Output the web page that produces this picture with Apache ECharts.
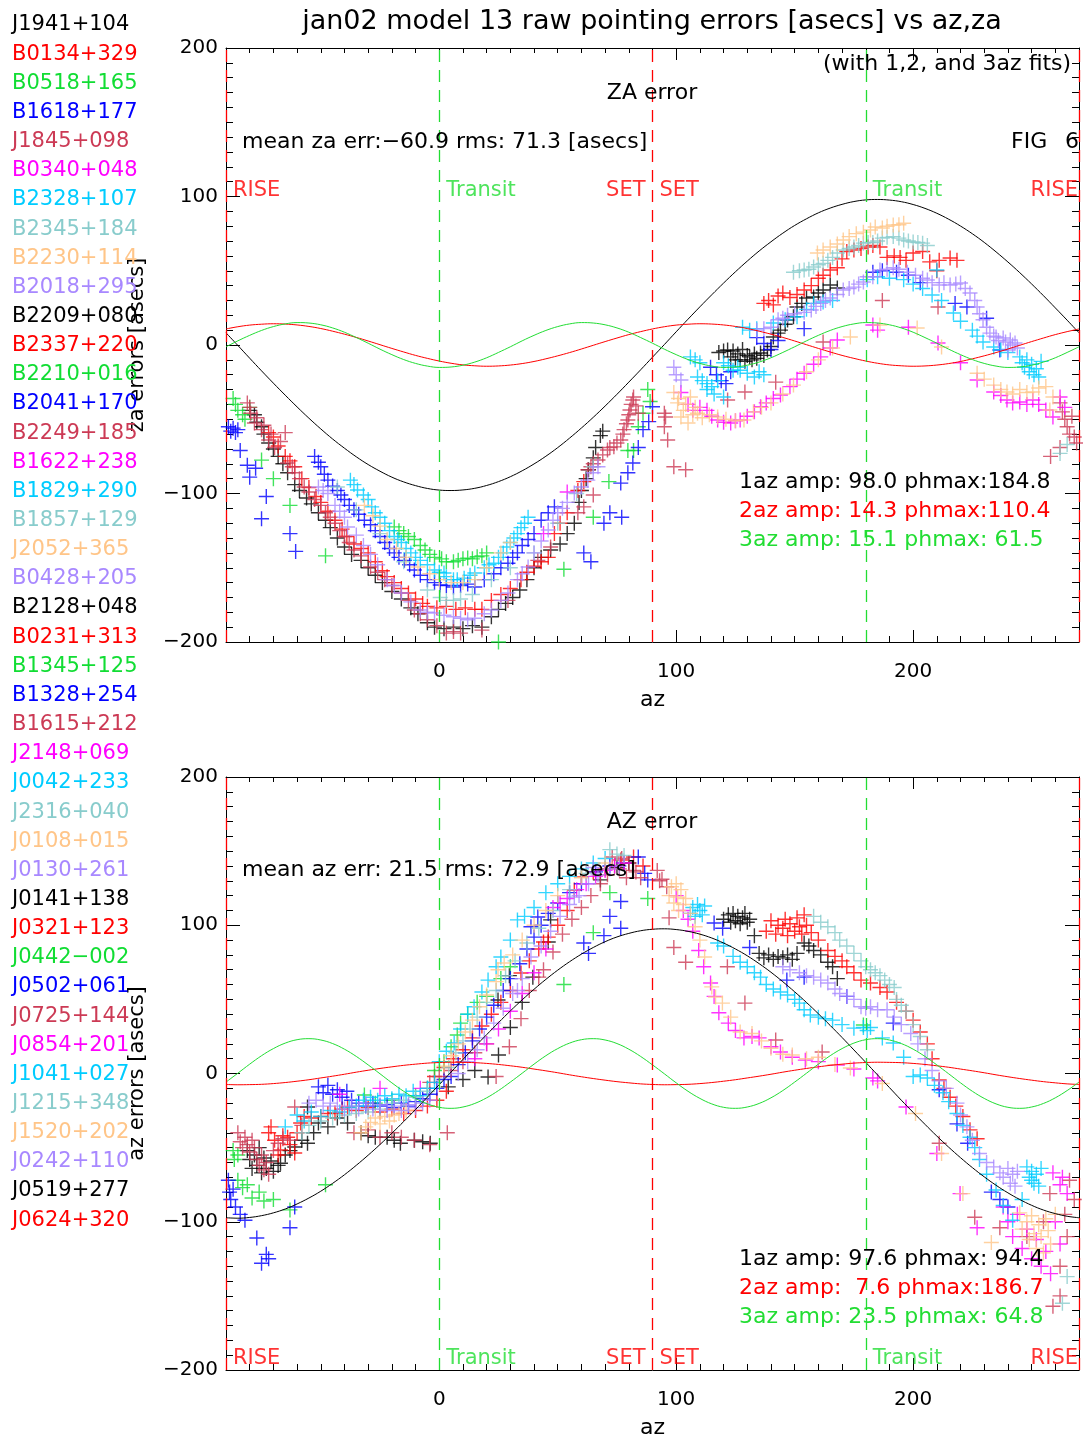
<!DOCTYPE html>
<html><head><meta charset="utf-8">
<script src="https://cdn.jsdelivr.net/npm/echarts@6/dist/echarts.min.js"></script>
<style>html,body{margin:0;padding:0;background:#fff}#c{width:1083px;height:1440px}</style>
</head><body><div id="c"></div><script>
// ---------------- data ----------------
const sources = ['J1941+104','B0134+329','B0518+165','B1618+177','J1845+098','B0340+048','B2328+107','B2345+184','B2230+114','B2018+295','B2209+080','B2337+220','B2210+016','B2041+170','B2249+185','B1622+238','B1829+290','B1857+129','J2052+365','B0428+205','B2128+048','B0231+313','B1345+125','B1328+254','B1615+212','J2148+069','J0042+233','J2316+040','J0108+015','J0130+261','J0141+138','J0321+123','J0442\u2212002','J0502+061','J0725+144','J0854+201','J1041+027','J1215+348','J1520+202','J0242+110','J0519+277','J0624+320'];
const palette = ['#000000','#ff0000','#11dd33','#0000ff','#cc3a55','#ff00ff','#00ccff','#88cccc','#ffc588','#a888ff'];
const xTickValues = [0, 100, 200];
const yTickValues = [-200, -100, 0, 100, 200];
const eventX = [-90, 0, 90, 90, 180, 270];
const eventText = ['RISE', 'Transit', 'SET', 'SET', 'Transit', 'RISE'];
const eventSide = ['right', 'right', 'left', 'right', 'right', 'left'];
const fitZaParams = [[98.0, 184.8], [14.3, 110.4], [15.1, 61.5]];
const fitAzParams = [[97.6, 94.4], [7.6, 186.7], [23.5, 64.8]];
const statsZa = 'mean za err:\u221260.9 rms: 71.3 [asecs]';
const statsAz = 'mean az err: 21.5 rms: 72.9 [asecs]';

// fit curves read at every 5 deg of az
const curveX = [-90,-85,-80,-75,-70,-65,-60,-55,-50,-45,-40,-35,-30,-25,-20,-15,-10,-5,0,5,10,15,20,25,30,35,40,45,50,55,60,65,70,75,80,85,90,95,100,105,110,115,120,125,130,135,140,145,150,155,160,165,170,175,180,185,190,195,200,205,210,215,220,225,230,235,240,245,250,255,260,265,270];
const zaFit1 = [8.2,-0.3,-8.9,-17.4,-25.7,-33.8,-41.7,-49.3,-56.5,-63.3,-69.5,-75.3,-80.5,-85.0,-89.0,-92.2,-94.7,-96.6,-97.7,-98.0,-97.6,-96.5,-94.6,-92.0,-88.7,-84.7,-80.1,-74.9,-69.1,-62.7,-55.9,-48.7,-41.1,-33.2,-25.0,-16.7,-8.2,0.3,8.9,17.4,25.7,33.8,41.7,49.3,56.5,63.3,69.5,75.3,80.5,85.0,89.0,92.2,94.7,96.6,97.7,98.0,97.6,96.5,94.6,92.0,88.7,84.7,80.1,74.9,69.1,62.7,55.9,48.7,41.1,33.2,25.0,16.7,8.2];
const zaFit2 = [10.8,12.3,13.4,14.0,14.3,14.1,13.5,12.5,11.1,9.3,7.3,5.1,2.7,0.2,-2.3,-4.7,-7.0,-9.0,-10.8,-12.3,-13.4,-14.0,-14.3,-14.1,-13.5,-12.5,-11.1,-9.3,-7.3,-5.1,-2.7,-0.2,2.3,4.7,7.0,9.0,10.8,12.3,13.4,14.0,14.3,14.1,13.5,12.5,11.1,9.3,7.3,5.1,2.7,0.2,-2.3,-4.7,-7.0,-9.0,-10.8,-12.3,-13.4,-14.0,-14.3,-14.1,-13.5,-12.5,-11.1,-9.3,-7.3,-5.1,-2.7,-0.2,2.3,4.7,7.0,9.0,10.8];
const zaFit3 = [-1.2,2.8,6.5,9.8,12.4,14.2,15.1,14.8,13.6,11.5,8.6,5.0,1.2,-2.8,-6.5,-9.8,-12.4,-14.2,-15.1,-14.8,-13.6,-11.5,-8.6,-5.0,-1.2,2.8,6.5,9.8,12.4,14.2,15.1,14.8,13.6,11.5,8.6,5.0,1.2,-2.8,-6.5,-9.8,-12.4,-14.2,-15.1,-14.8,-13.6,-11.5,-8.6,-5.0,-1.2,2.8,6.5,9.8,12.4,14.2,15.1,14.8,13.6,11.5,8.6,5.0,1.2,-2.8,-6.5,-9.8,-12.4,-14.2,-15.1,-14.8,-13.6,-11.5,-8.6,-5.0,-1.2];
const azFit1 = [-97.3,-97.6,-97.1,-95.9,-94.0,-91.4,-88.0,-84.0,-79.4,-74.1,-68.3,-61.9,-55.1,-47.9,-40.3,-32.4,-24.3,-15.9,-7.5,1.0,9.5,18.0,26.2,34.3,42.2,49.7,56.8,63.5,69.7,75.4,80.5,85.0,88.9,92.1,94.5,96.3,97.3,97.6,97.1,95.9,94.0,91.4,88.0,84.0,79.4,74.1,68.3,61.9,55.1,47.9,40.3,32.4,24.3,15.9,7.5,-1.0,-9.5,-18.0,-26.2,-34.3,-42.2,-49.7,-56.8,-63.5,-69.7,-75.4,-80.5,-85.0,-88.9,-92.1,-94.5,-96.3,-97.3];
const azFit2 = [-7.4,-7.6,-7.5,-7.3,-6.8,-6.1,-5.2,-4.2,-3.0,-1.8,-0.5,0.9,2.2,3.4,4.5,5.5,6.3,7.0,7.4,7.6,7.5,7.3,6.8,6.1,5.2,4.2,3.0,1.8,0.5,-0.9,-2.2,-3.4,-4.5,-5.5,-6.3,-7.0,-7.4,-7.6,-7.5,-7.3,-6.8,-6.1,-5.2,-4.2,-3.0,-1.8,-0.5,0.9,2.2,3.4,4.5,5.5,6.3,7.0,7.4,7.6,7.5,7.3,6.8,6.1,5.2,4.2,3.0,1.8,0.5,-0.9,-2.2,-3.4,-4.5,-5.5,-6.3,-7.0,-7.4];
const azFit3 = [-5.8,0.2,6.3,12.0,16.8,20.5,22.8,23.5,22.6,20.2,16.4,11.5,5.8,-0.2,-6.3,-12.0,-16.8,-20.5,-22.8,-23.5,-22.6,-20.2,-16.4,-11.5,-5.8,0.2,6.3,12.0,16.8,20.5,22.8,23.5,22.6,20.2,16.4,11.5,5.8,-0.2,-6.3,-12.0,-16.8,-20.5,-22.8,-23.5,-22.6,-20.2,-16.4,-11.5,-5.8,0.2,6.3,12.0,16.8,20.5,22.8,23.5,22.6,20.2,16.4,11.5,5.8,-0.2,-6.3,-12.0,-16.8,-20.5,-22.8,-23.5,-22.6,-20.2,-16.4,-11.5,-5.8];

// ---- ZA errors (top panel), [az, err] ----
const zaBlack = [[-80,-44],[-78,-47],[-77,-52],[-75,-55],[-74,-60],[-72,-66],[-70,-70],[-68,-75],[-66,-80],[-64,-86],[-61,-94],[-59,-98],[-56,-103],[-54,-107],[-51,-113],[-48,-118],[-46,-123],[-43,-130],[-40,-136],[-37,-141],[-33,-145],[-30,-150],[-27,-155],[-24,-160],[-20,-166],[-16,-171],[-12,-177],[-9,-181],[-5,-187],[-2,-190],[2,-191],[6,-190],[10,-191],[14,-189],[18,-190],[22,-183],[25,-178],[28,-174],[31,-170],[34,-165],[37,-158],[40,-150],[43,-143],[47,-138],[51,-134],[54,-127],[57,-120],[59,-106],[60,-98],[62,-90],[63,-84],[65,-76],[66,-69],[68,-61],[69,-58],
[118,-5],[120,-4],[121.7,-3.4],[123,-8],[124,-4],[125,-10],[126,-6],[127,-10],[128,-3],[129,-11],[130,-7],[131,-8],[132,-10],[133,-6],[134,-9],[135.6,-5.4],[137,-7],[138.5,-3.4],[140,-1],[141,5.4],[143,8],[144,10],[146,14],[147,16.8],[149.5,19],[151,25.6],[153,28],[155,31.6],[158,32.3],[160,35],[162,37],[165,40.4],[168,38.4]];
const zaRed = [[-72,-59],[-70,-62],[-68,-68],[-65,-75],[-63,-78],[-61,-82],[-58,-90],[-55,-96],[-52,-102],[-50,-106],[-47,-112],[-44,-118],[-41,-124],[-39,-129],[-36,-134],[-33,-137],[-30,-140],[-27,-146],[-24,-152],[-22,-156],[-19,-160],[-16,-164],[-13,-167],[-10,-171],[-7,-174],[-5,-176],[-1,-177],[3,-176],[7,-178],[11,-177],[15,-178],[18,-178],[22,-172],[26,-168],[30,-164],[34.5,-158],[37,-153],[40,-149],[43,-146],[46,-143],[48.6,-127],[51,-120],[54,-113],[58.5,-98],[61,-92],
[137,28],[139,30],[141,27],[143,33],[145,35],[148,32],[151,34],[154,37],[157,40],[160,45],[162,47],[165,50.5],[168,52],[170,58],[172,63],[175,64],[178,65],[181,66],[183,67],[186,66],[189,59],[192,60],[194.5,59],[197,57],[200,62],[204,63],[207,56],[210,50],[211,57],[215.6,58.6],[218.5,57]];
const zaGreen = [[-87,-36],[-86,-40],[-85,-44],[-83,-47],[-82,-50],[-80,-42],[-75,-77.5],[-70,-90],[-63,-108],[-48,-142],
[-19,-122.5],[-17,-125],[-15,-127],[-13,-129],[-10.5,-131],[-8,-135],[-6,-138],[-4,-141],[-2,-143],[1,-144],[3,-146],[6,-146],[8,-145],[10,-144],[12,-143.5],[14,-144],[16,-142.6],[18,-142],[20,-140],
[52.6,-151],[25,-200],[65,-116],[71.6,-92],[79.6,-71],[82,-71],[84,-55],[86,-46],[88,-30],[89,-38]];
const zaBlue = [[-89,-55],[-88,-58],[-87,-56],[-86,-59],[-85,-57],[-84,-71],[-81,-81],[-80,-89],[-77.5,-83],[-75,-117],[-73,-102],[-63,-127],[-60.6,-139],
[-52.6,-75],[-51,-79],[-50,-82],[-48.5,-87],[-47,-91],[-45,-95],[-43,-98],[-41.5,-101],[-40,-104],[-38,-108],[-36,-111],[-34,-114],[-31.6,-118],[-29,-121],[-27,-125],[-25,-129],[-23,-133],[-21,-137],[-19,-140],[-17,-143],[-14.7,-145],[-12.5,-148],[-10.5,-151.5],[-8,-155],[-5,-158],[-2,-160],[0.4,-161.6],[3,-162],[6,-163],[9,-162],[12,-161],[15,-163],[19,-158],[23,-154],[26,-150],[29,-147],[31,-143],[33,-140],[35,-135],[37.5,-131],[40,-127],[43,-118],[46,-113],[48.6,-109],
[61,-140],[64,-146],[69.5,-120],[72,-113],[77,-116],[76.6,-93],[79.6,-86],[81.7,-79.5],[84,-69],[86,-57],[88.4,-51.6],[90,-41.6],
[114.5,-15],[117,-20],[119,-24],[121,-26],[123,-18],[134,5],[137,1],[140,-3],[143,3],[154,11],[183,49],[187,50],[193,49],[198,47],[203,42],[217.7,28],[222.7,25.6],[231,18],[236.6,-3.4]];
const zaCrimson = [[-81,-39],[-80,-42],[-79.6,-46],[-78,-52.5],[-77,-49],[-75,-57],[-74,-54],[-72,-64],[-71,-60],[-69.5,-69],[-67,-65],[-65,-59],[-64,-79.5],[-62,-82],[-61,-86],[-59,-90],[-57,-95.6],[-55,-99],[-52.6,-104],[-50,-108],[-48,-113],[-46,-116],[-44,-120],[-42,-125],[-40,-129],[-38,-133],[-36,-138],[-33,-142],[-29,-149.5],[-26,-153],[-23,-158],[-20,-162],[-16,-167],[-13,-172],[-10.5,-178.5],[-8,-181],[-5,-185],[-1,-189],[3,-194],[6,-193],[9,-194],[18,-192],[29,-172],[41.6,-145],[47,-136],[58.5,-113],[61,-109],[65,-101],
[62.7,-84],[64,-82],[65,-80],[67,-77.4],[69,-74],[71,-70.7],[72,-69],[73.7,-68.6],[75,-66],[76.6,-64],[77.5,-60],[78,-57],[79,-53],[79.6,-50.5],[80,-47],[80.5,-43.8],[81,-40],[81.7,-37],[82,-35],[83,-41],[84,-46],
[95,-46],[95.5,-48.5],[95,-55],[96.4,-64],[99,-82],[104,-84],[121.7,-37],[129,-31.6],[142,-25],[162,2],[187,30],[210.5,25.6],
[258,-75],[262,-69],[262,-39],[263,-45],[264,-50],[265,-55],[266,-60],[267,-48],[268,-62],[269,-66]];
const zaMagenta = [[44,-127],[54,-99],[102,-32],[105,-40],[107,-44],[110,-42],[113,-44],[115,-48],[117.5,-50.5],[120,-52],[123,-52.5],[125,-51],[127,-50.5],[130,-48],[133,-45],[135.6,-41.6],[138,-39],[141,-36],[144,-33.7],[148,-28],[151,-23],[154,-19],[158,-13],[161,-8],[165,-2],[168,3.4],[183,13.5],[185,10],[198,12],[210.5,1.3],[220,-12],[227,-23.6],[234,-31.6],[237,-34],[239.6,-37],[242,-39],[245,-38.4],[248,-40],[250.5,-37],[253,-40],[256,-43.8],[259,-48.5],[262,-35],[264,-42]];
const zaCyan = [[-37.5,-91],[-36,-94],[-34.5,-97.6],[-32,-101],[-30,-104],[-28.5,-109],[-27,-113],[-25,-116],[-23,-120],[-21,-125],[-19,-129],[-17.5,-131],[-16,-133],[-14,-137],[-12,-140],[-10,-143],[-8,-145],[-5,-148],[-2,-151.5],[0,-153],[2,-153.5],[3,-156],[6,-158],[7.6,-158],[10.5,-157],[13,-155],[15,-153.5],[19,-150],[21,-148],[23,-147],[25,-143],[27,-140],[28.5,-136],[30,-133],[31.5,-130],[33,-127],[34.5,-123],[36,-120],[37.5,-116],
[106,-8],[108,-10],[110,-12],[109,-21.5],[111,-24],[113,-26],[115,-28],[117.5,-24],[113,-30],[116,-33],[120,-35],[120,-12],[122,-14],[124,-17],[126,-15],[127,-17],[130,-19],[133,-21.5],[135,-18],[137,-20],[128,12],[131,10],[134,11],[141,14.8],[146,17],[151,19],[155,24],[158,28],[162,29],[166,30],[180.6,44],[185,46],[190,45],[196,44],[200,41],[204,38],[208,33.7],[210,50.5],[212,30],[217,21.5],[220,16],[225,10],[227,6],[229.5,2],[234,-1.3],[237,-3],[240,-5],[245,-8],[246,-12],[247,-15],[248,-10],[249,-18],[250,-13],[251,-20],[252,-16],[253,-21.5],[254,-11]];
const zaTeal = [[-43,-95.6],[-35,-111],[-25,-127],[-15,-146],[-5,-165],[0.4,-170],[3,-172],[6,-172],[9,-171],[14,-168],[22,-158],[30,-150],[40,-140],[50,-120],[58,-100],[65,-82],
[149.5,49],[152,50],[154,50.5],[156,51],[158,52.5],[160,54],[162,55],[164,57],[166,59],[168,62],[170.5,64],[173,65],[175,66],[177,67],[179,68.6],[181,69],[183,69],[185,70],[187,72],[189,72.5],[191.6,73],[194,72],[196,70.7],[198,70],[200,69.4],[202,69],[204,68.6],[206,67],[262,-73],[265,-67]];
const zaPeach = [[-31.6,-108],[-28,-115],[-25,-122],[-22,-131],[-18,-137],[-14,-143],[-9,-149.5],[-4,-154],[0,-158],[5,-160],[10,-160],[15,-158],[20,-150],[26,-140],[30,-133],
[99,-32],[100.6,-39],[101,-36],[102,-48.5],[103,-44],[104,-40],[105,-52.5],[106,-35],[107,-47],[108,-42],[109,-46],[111,-49],[114,-47],[117.5,-48.5],[121,-50],[125,-51],[128.6,-50.5],[132.6,-45],[136,-42],[140,-39],[145,-33],[149.5,-27],[155,-18],[160,-10],[166,-2],[173.5,5.4],
[159.6,62],[162,64],[165,66],[168,68],[170.5,70.7],[173,73],[176,75],[179,76],[182,77.4],[184,79.5],[187,78.8],[189,80],[191.6,80.8],[194,81],[196,82],
[186,13.5],[201.7,11.4],[212,-1.3],[227,-19],[230,-23],[234,-27],[237,-30],[239.6,-31.6],[242,-33],[245,-30],[248,-32],[250.5,-31.6],[253,-29],[256,-28],[259,-35],[257.7,-43.8]];
const zaLavender = [[-51,-95.6],[-49,-98],[-47,-100],[-44,-108],[-42,-112],[-40,-116],[-38.7,-122.6],[-35,-128],[-32,-135],[-29,-141],[-26,-148],[-22,-158],[-19,-162],[-16,-167],[-12,-173],[-8,-178.5],[-5,-180],[-2,-180.5],[2,-182],[6,-183],[9,-184],[12,-185],[15,-184],[19,-181],[22,-178.5],[26,-172],[29,-167],[33,-158],[35,-154],[37.5,-149.5],[40,-140],[43,-132],[46,-124.6],[48,-118],[50,-113],[52,-110],[54,-106],[57,-99.6],[60,-95.6],[62.7,-91],[65,-86],[67,-82],
[99,-15],[100,-20],[102,-23.6],[134,10],[137,11],[140,12],[143,17],[145,18],[147,20],[150,21],[154,22],[157,23.6],[159,26],[161,28],[163,30],[165,31.6],[168,34],[170.5,37],[173,38],[175,39],[177,41],[179,42.4],[180.6,46],[183,46],[186,50.5],[189,51],[191.6,52],[194,51],[197.5,49],[201,47],[204,45],[206,43.8],[208,42],[211,40.4],[213,42],[215.6,40.4],[218,41],[220,41.8],[222,38],[224,35],[226,30],[227,25.6],[228,21],[229.5,17],[231,12],[232.4,8],[234,6],[235,5.4],[236,3],[238,4.7],[239,2],[240,-3.4],[241,3.4],[242,0],[243,1.3],[244,-2]];

// ---- AZ errors (bottom panel), [az, err] ----
const azBlack = [[-81,-52],[-80,-58],[-79,-64],[-78,-55],[-77,-62],[-76,-50],[-75,-67],[-74,-57],[-73,-64],[-71,-59],[-70,-66],[-68,-62],[-67,-60.5],[-65,-55],[-63,-52],[-61,-49.6],[-58,-45],[-55.6,-47],[-53,-40],[-51,-33.4],[-55.6,-22.6],[-47,-36],[-43,-30],[-38.7,-33.4],[-33,-40],[-30,-42],[-27,-43],[-22,-43],[-19,-45],[-16.4,-47],[-10.5,-45],[-7,-46],[-3.8,-47],[3.8,-9],[10,-4],[15,2],[20.6,-2.4],[25,12.5],[30,31],[35,48],[39.5,65],[24.8,49.6],[29.6,66],[46,88.7],[47,103.6],[68,130.6],[75,139],[80,142],
[120,104],[122,107],[123,102],[124,108],[125,103],[126,106],[127,101],[128,105],[129,108],[130,102],[131,104],[133,93],[135,81],[137,78],[139,80],[141,77],[143,79],[145,78],[147,80],[149,77],[151,81],[154,88],[156,86],[158,83],[161,80],[164,75],[166,72],[168,64]];
const azRed = [[-72,-40],[-71,-36],[-69.5,-45],[-68,-55],[-67,-51.6],[-66,-42],[-64,-43],[-63,-48],[-61,-53.6],[-60,-40],[-58.5,-33.4],[-57,-29],[-54,-30],[-50,-29],[-47,-27],[-44,-26.6],[-41,-24],[-38.7,-22.6],[-35,-25],[-30,-23],[-25,-26],[-20,-24],[-15,-27],[-10,-25],[-5,-22],[-1,-18],
[3,-12],[-2,-2],[2,4],[6,10],[10,16],[14,24],[18,32],[22,40],[26,48],[30,56],[34.5,67.8],[38,76],[42,84],[44,88.7],[46,92],[50,100],[54,110],[57,123.8],[60,132.6],[65,136],[70,138],[76.6,144],[82,146],[86,140],
[138,96],[140,103],[142,94],[143,100],[145,98],[146,104],[147,93],[148,101],[150,96],[151,105],[152,99],[153,94],[154,107],[155,100],[157,95],[160,90],[164,83],[167,79],[170,76],[172,72],[175,68],[178,63],[182,61],[186,58],[189,55],[193,48],[197,42],[200,36],[203,28],[206,20],[208,10],[211,-4.4],[213,-10],[215.6,-16],[218,-22],[221,-29],[224,-38],[227,-44]];
const azGreen = [[-87,-52],[-86.5,-58],[-85,-55],[-85,-72],[-83,-77],[-81,-75],[-79,-84],[-76,-80],[-74,-86],[-70,-85],[-63,-92],[-48,-75],[-31.6,-14.5],[-27,-20],[-20,-18],[-10,-15],[-5,-10],[-2,2],[2,8],[5,18],[7.6,26],[9,34],[12,40],[16,48],[20,52],[26,64],[30,72],[52.6,60],[65,95],[72,122],[88,118],[179,32.7]];
const azBlue = [[-89,-72],[-88.5,-80],[-88,-85],[-87,-78],[-86,-90],[-84,-95],[-82,-99],[-77,-111],[-73,-122],[-75,-128],[-72,-125],[-63,-104],[-61,-90],
[-51,-9],[-49,-13],[-47,-8],[-45,-14],[-43,-11],[-41,-16],[-39,-12],[-37,-18],[-34,-20],[-31,-22],[-28,-20],[-25,-22],[-22,-21],[-19,-23],[-16,-20],[-13,-22],[-10,-19],[-7,-17],[-4,-14],[-1,-10],[2,-4],[5,-2],[8,6],[11,14],[14,22],[17,30],[20,38],[23,46],[27,56],[30,64],[34,74],[37,84],[38.7,99],[40,92],[41.6,105.6],[43,100],[46,108],[50,115],[55,122],[60,128],[66,136],[72,140],[78,142],[84,146],[86.7,135],[88,130.6],
[63,81],[61,88],[69.5,93],[76.6,98],[72,106],[76.6,116],
[116,101.5],[119.6,98],[131,85],[146.7,63],[154,65],[172,52],[191.6,34],[211,-11],[218.5,-34],[223,-47],[233,-80],[236.6,-85],[240,-90]];
const azCrimson = [[-85,-40],[-84,-46],[-83,-50],[-82,-43],[-81,-48],[-80,-53],[-79,-45],[-78,-50],[-77,-58],[-76,-62],[-75,-55],[-74,-65],[-73,-60],[-72,-68],[-70,-52],[-68,-47],[-66,-44],[-63,-45],[-61,-22.6],[-58,-35],
[-36,-40],[-30,-38],[-25,-43],[-20,-40],[-16,-43],[-10.5,-45],[-4,-48],[3.4,-40],
[-4,-6],[0,-2],[5,2],[10,8],[15,14],[20,20],[24,-2],[29.6,18],[34.5,37],[38,56],[42,65],[44,70],[48,82],[52,94],[56,104],[60,112],[64,120],[68,128],[71,134],[73,146],[74,140],[76,138],[77,145],[79,132],[80,142],[82,137],[83,136],[85,132],[92,137],[93,130],[94,131],[96,126],[97,105],[99,85],[104,75],[121.6,72],[129,47.5],[142,22.6],[161.6,14.5],
[211,-47],[226,-97],[236.6,-104],[248,-110],[257.7,-81],[266,-72],[265,-110],[262,-130],[259,-157],[262,-150],[268,-85],[264,-95],[255,-100]];
const azMagenta = [[-42,-14],[-25,-10],[-8,-10],[15,10],[20,20],[25,30],[30,42],[35,54],[40,68],[45,84],[48,112],[51,115],[54,118],[58,124],[62,128],[66,133],[70,137],[74,140],[78,142],
[100,120],[103,110],[105,104],[107,96],[109.5,83],[111.6,72],[114.5,61],[116,52],[118,41],[122,34],[125,29],[128.6,24],[132,25],[135,24],[140,18],[144,14.5],[149,11],[154.5,9],[160,8],[168,5.7],[175,3],[183,-3],[185,-5],[197,-22.6],[210,-54],[219.8,-81],[227,-104],
[238,-90],[240,-100],[242,-110],[244,-95],[246,-118],[248,-105],[250,-125],[252,-112],[254,-130],[256,-120],[258,-135],[260,-100],[262,-115],[259,-67],[262,-75],[265,-81],[263,-70]];
const azCyan = [[-65,-36],[-60,-28],[-57,-32],[-54,-26],[-50,-29],[-46,-25],[-42,-26],[-38,-23],[-35,-22],[-32,-18],[-29,-16],[-26,-18],[-23,-15],[-20,-17],[-17,-14],[-14,-15],[-11,-12],[-8,-15],[-5,-10],[-2,-6],
[0,8],[3,15],[6.3,20.6],[9,30],[12,40],[14.7,45],[18,55],[20.6,63],[24,72],[26,78.6],[30,90],[33,103.6],[36,106],[40,112],[45,122],[50,128],[55,133],[60,138],[65,142],[70,145],
[106,108],[107,112],[108,106],[109,114],[110,110],[111,107],[112,113],[117.5,88],[120,86],[124,79],[127,75],[130,72],[133,68],[135.6,65],[138,60],[141,57],[144,55],[147,53],[150,50],[152,47.5],[154,43],[156.6,39.5],[160,38],[163,37],[166,36],[170,33],[175,30.6],[179,31],[182,31],[180.6,29],[187,24],[191.6,20.6],[196,11],[200,-2],[203,-1],[206,-3],[209,-8],[212.6,-13],[215,-19],[218.5,-27],[221,-35],[224,-43],[226,-50],[228,-58],[231,-68],[235,-78.6],[238,-89],[242,-99],[246,-85],[248,-63],[249,-70],[250,-66],[251,-74],[252,-68],[253,-76],[250,-72],[254,-64]];
const azTeal = [[-58,-40],[-55,-35],[-50,-32],[-45,-30],[-40,-28],[-35,-27],[-30,-26],[-25,-24],[-20,-20],[-15,-18],[-10,-16],[-5,-12],
[4,4],[7,14],[10,22],[13,30],[16,38],[20,48],[24,56],[28,66],[32,76],[37,88],[42,98],[48,110],[55,124],[62,135],[72,151],[75,148],[78,147],
[158,106],[161,102],[164,99],[167,95],[169,90],[172,86],[175,81],[178,76],[180,72],[182,70],[184,68],[186,66],[188,63],[190,60],[192,58],[193,50],[195,46],[197,42],[200,33],[203,25],[206,16],[265,-137],[263,-155]];
const azPeach = [[-33,-40],[-31,-36],[-29,-33],[-27,-30],[-25,-34],[-23,-29],[-21,-32],[-19,-28],[-17,-27],[-14,-25],
[2,5],[5,12],[8,20],[11,28],[14,36],[17,45],[20,53],[24,62],[24.8,70],[27.4,74.5],[31,80],[35,90],[40,100],[45,110],[50,120],[60,132],[70,142],
[97,120],[98,126],[99,115],[100,128],[100.6,119],[101,110],[102,124],[103,114],[104,118],[106,108],[108,99],[110,90],[112,78.6],[115,58.4],[116.6,51.6],[119.5,47.5],[123,38],[127,28],[132,27],[136,22],[140,17],[145,13],[149,12.5],[155,10],[160,11],[167,6],[173.5,3.7],[187,-6.7],[201,-27],[212,-54],[221,-81],[233,-114],
[245,-94],[246,-105],[248,-100],[249,-112],[250,-96],[251,-108],[252,-118],[253,-102],[254,-110],[255,-121],[256,-98],[257,-106],[258,-115],[260,-95]];
const azLavender = [[-55,-20],[-52,-18],[-49,-22],[-46,-20],[-43,-22],[-40,-24],[-37,-22],[-34,-24],[-31,-20],[-28,-24],[-25,-21],[-22,-25],[-19,-22],[-16,-25],[-13,-21],[-10,-23],[-7,-20],[-4,-18],
[8,0],[12,8],[16,16],[19,24],[23,34],[27,44],[31,54],[33,56],[35,64],[38.7,78.6],[43,86],[47,96],[51,106],[55,114],[57,119],[59,120],[63,128],[65,139],[67,134],[72,138],[76,140],
[145,72],[148,70],[152,68],[155,66],[158,65],[161,63],[164,61],[167,57],[169,54],[172,52],[175,50],[178,45],[180,44],[182,45],[185,43],[189,43],[192,38],[195,33],[199,27],[202,20],[205,10],[208,2],[211,-5],[214,-10],[218.5,-20],[220,-28],[222.7,-36],[225,-45],[228,-54],[231,-60],[234,-63],[236.6,-67],[238,-70],[240,-64],[241,-74],[242,-68],[243,-76],[244,-66]];

const zaGroups = [zaBlack, zaRed, zaGreen, zaBlue, zaCrimson, zaMagenta, zaCyan, zaTeal, zaPeach, zaLavender];
const azGroups = [azBlack, azRed, azGreen, azBlue, azCrimson, azMagenta, azCyan, azTeal, azPeach, azLavender];

// ---------------- chart ----------------
const FONT = 'DejaVu Sans';
const RED = '#ff0000', GREEN = '#22dd33';
const plusPath = 'path://M0,7L14,7M7,0L7,14';
const chart = echarts.init(document.getElementById('c'));

function f51(v) { let s = v.toFixed(1); while (s.length < 5) s = ' ' + s; return s; }
function minusFmt(v) { return String(v).replace('-', '\u2212'); }

function makeX(gi) {
  const base = {gridIndex: gi, type: 'value', min: -90, max: 270, splitLine: {show: false}};
  return [
    Object.assign({}, base, {position: 'bottom',
      axisLine: {show: true, onZero: false, lineStyle: {color: '#000', width: 1}},
      axisTick: {show: true, inside: true, length: 12, customValues: xTickValues, lineStyle: {color: '#000'}},
      axisLabel: {show: true, customValues: xTickValues, margin: 20, color: '#000', fontSize: 20, fontFamily: FONT},
      name: 'az', nameLocation: 'middle', nameGap: 47, nameTextStyle: {color: '#000', fontSize: 22, fontFamily: FONT}}),
    Object.assign({}, base, {position: 'bottom', interval: 10,
      axisLine: {show: false, onZero: false}, axisTick: {show: true, inside: true, length: 6, lineStyle: {color: '#000'}}, axisLabel: {show: false}}),
    Object.assign({}, base, {position: 'top',
      axisLine: {show: true, onZero: false, lineStyle: {color: '#000', width: 1}},
      axisTick: {show: true, inside: true, length: 12, customValues: xTickValues, lineStyle: {color: '#000'}}, axisLabel: {show: false}}),
    Object.assign({}, base, {position: 'top', interval: 10,
      axisLine: {show: false, onZero: false}, axisTick: {show: true, inside: true, length: 5, lineStyle: {color: '#000'}}, axisLabel: {show: false}})
  ];
}
function makeY(gi, name) {
  const base = {gridIndex: gi, type: 'value', min: -200, max: 200, splitLine: {show: false}};
  return [
    Object.assign({}, base, {position: 'left', interval: 100,
      axisLine: {show: true, onZero: false, lineStyle: {color: '#000', width: 1}},
      axisTick: {show: true, inside: true, length: 14, lineStyle: {color: '#000'}},
      axisLabel: {show: true, margin: 8, color: '#000', fontSize: 20, fontFamily: FONT, formatter: minusFmt},
      name: name, nameLocation: 'middle', nameGap: 78, nameTextStyle: {color: '#000', fontSize: 21, fontFamily: FONT}}),
    Object.assign({}, base, {position: 'left', interval: 10,
      axisLine: {show: false, onZero: false}, axisTick: {show: true, inside: true, length: 7, lineStyle: {color: '#000'}}, axisLabel: {show: false}}),
    Object.assign({}, base, {position: 'right', interval: 100,
      axisLine: {show: true, onZero: false, lineStyle: {color: '#000', width: 1}},
      axisTick: {show: true, inside: true, length: 14, lineStyle: {color: '#000'}}, axisLabel: {show: false}}),
    Object.assign({}, base, {position: 'right', interval: 10,
      axisLine: {show: false, onZero: false}, axisTick: {show: true, inside: true, length: 7, lineStyle: {color: '#000'}}, axisLabel: {show: false}})
  ];
}

function panelSeries(gi, groups, fits, labelY) {
  const ax = gi * 4;
  const out = [];
  groups.forEach((data, j) => {
    out.push({type: 'scatter', name: sources.filter((_, i) => i % 10 === j).join(', '),
      xAxisIndex: ax, yAxisIndex: ax, data: data, symbol: plusPath, symbolSize: 15,
      itemStyle: {color: 'rgba(0,0,0,0)', borderColor: palette[j], borderWidth: 1.4},
      silent: true, z: 3});
  });
  const fitColors = ['#000000', RED, GREEN];
  fits.forEach((ys, k) => {
    out.push({type: 'line', xAxisIndex: ax, yAxisIndex: ax, data: curveX.map((x, i) => [x, ys[i]]),
      smooth: 0.4, showSymbol: false, silent: true, lineStyle: {color: fitColors[k], width: 1}, z: 4});
  });
  out.push({type: 'scatter', xAxisIndex: ax, yAxisIndex: ax, symbolSize: 0, silent: true, z: 5,
    data: eventX.map((x, i) => ({value: [x, labelY], label: {show: true, position: eventSide[i], distance: (i === 5 ? 1 : 7),
      formatter: eventText[i], color: eventText[i] === 'Transit' ? GREEN : RED, fontSize: 21, fontFamily: FONT}})),
    markLine: {silent: true, symbol: ['none', 'none'], label: {show: false}, animation: false,
      data: eventX.filter((x, i) => i !== 3).map(x => ({xAxis: x,
        lineStyle: {color: (x === 0 || x === 180) ? GREEN : RED, type: [12, 8], width: 1.3}}))}});
  return out;
}

const graphics = [];
sources.forEach((s, i) => {
  graphics.push({type: 'text', x: 12, y: 25 + i * 29.15, z: 100,
    style: {text: s, fill: palette[i % 10], font: '21px "' + FONT + '"', align: 'left', verticalAlign: 'middle'}});
});
function txt(x, y, text, color, align, size) {
  graphics.push({type: 'text', x: x, y: y + 2, z: 100,
    style: {text: text, fill: color, font: (size || 22) + 'px "' + FONT + '"', align: align || 'left', verticalAlign: 'middle'}});
}
txt(652, 20, 'jan02 model 13 raw pointing errors [asecs] vs az,za', '#000', 'center', 27);
txt(823, 62, '(with 1,2, and 3az fits)', '#000');
txt(652, 91, 'ZA error', '#000', 'center');
txt(242, 140, statsZa, '#000');
txt(1011, 140, 'FIG', '#000');
txt(1065, 140, '6', '#000');
txt(652, 820, 'AZ error', '#000', 'center');
txt(242, 868, statsAz, '#000');
const fitTextColors = ['#000000', RED, GREEN];
fitZaParams.forEach((p, k) => txt(739, 480 + k * 29, (k + 1) + 'az amp:' + f51(p[0]) + ' phmax:' + f51(p[1]), fitTextColors[k]));
fitAzParams.forEach((p, k) => txt(739, 1257 + k * 29, (k + 1) + 'az amp:' + f51(p[0]) + ' phmax:' + f51(p[1]), fitTextColors[k]));

chart.setOption({
  animation: false,
  backgroundColor: '#ffffff',
  grid: [
    {left: 226, top: 48, width: 853, height: 594},
    {left: 226, top: 777, width: 853, height: 593}
  ],
  xAxis: makeX(0).concat(makeX(1)),
  yAxis: makeY(0, 'za errors [asecs]').concat(makeY(1, 'az errors [asecs]')),
  series: panelSeries(0, zaGroups, [zaFit1, zaFit2, zaFit3], 104)
    .concat(panelSeries(1, azGroups, [azFit1, azFit2, azFit3], -192)),
  graphic: graphics
});
</script></body></html>
